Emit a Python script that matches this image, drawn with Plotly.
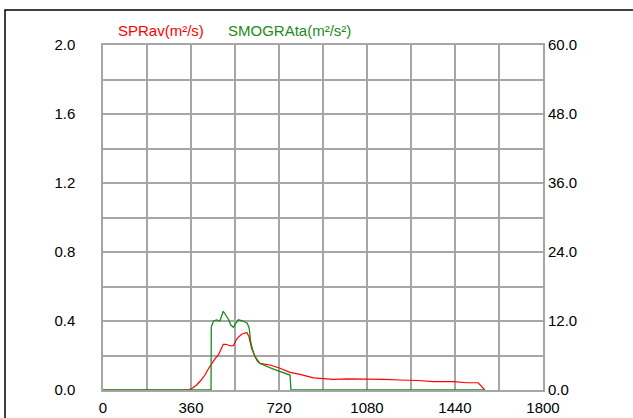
import plotly.graph_objects as go

# Data
spr_t = [0, 349, 365, 383, 400, 417, 432, 445, 458, 472, 482, 492, 503, 513, 523, 533, 541, 549,
         567, 588, 597, 603, 608, 622, 632, 642, 660, 683, 724, 765, 806, 833, 861, 888, 942,
         1000, 1079, 1150, 1215, 1290, 1352, 1400, 1434, 1488, 1535, 1562]
spr_v = [0, 0, 0.01, 0.029, 0.055, 0.087, 0.125, 0.155, 0.18, 0.203, 0.235, 0.265, 0.265, 0.26,
         0.255, 0.257, 0.28, 0.30, 0.323, 0.334, 0.31, 0.275, 0.242, 0.193, 0.17, 0.155, 0.15,
         0.145, 0.126, 0.102, 0.091, 0.081, 0.07, 0.067, 0.062, 0.064, 0.064, 0.062, 0.058,
         0.055, 0.048, 0.05, 0.048, 0.042, 0.042, 0.0]
smo_t = [0, 442, 443, 452, 465, 478, 492, 500, 513, 523, 533, 543, 554, 574, 590, 598, 604,
         612, 622, 632, 642, 700, 765, 769, 1562]
smo_v = [0, 0, 11.0, 12.0, 12.2, 12.0, 13.7, 13.2, 12.3, 11.3, 10.9, 11.6, 12.2, 12.0, 11.6,
         10.8, 8.4, 7.0, 5.8, 5.0, 4.6, 3.6, 2.6, 0, 0]

x_ticks = [0, 360, 720, 1080, 1440, 1800]
y_ticks = [0.0, 0.4, 0.8, 1.2, 1.6, 2.0]
y2_ticks = [0.0, 12.0, 24.0, 36.0, 48.0, 60.0]

red = "#ff0000"
green = "#1a8c1a"
grid = "#a6a6a6"
font = "Liberation Sans, Arial, sans-serif"
fs = 15

fig = go.Figure()
fig.add_trace(go.Scatter(x=spr_t, y=spr_v, mode="lines", line=dict(color=red, width=1.2),
                         name="SPRav(m²/s)", yaxis="y"))
fig.add_trace(go.Scatter(x=smo_t, y=smo_v, mode="lines", line=dict(color=green, width=1.3),
                         name="SMOGRAta(m²/s²)", yaxis="y2"))

fig.update_layout(
    width=633, height=418,
    margin=dict(l=103, r=90, t=45, b=28),
    paper_bgcolor="white", plot_bgcolor="white",
    showlegend=False,
    font=dict(family=font, size=fs, color="black"),
    xaxis=dict(range=[0, 1800], tickvals=x_ticks, ticktext=[str(v) for v in x_ticks],
               showgrid=True, gridcolor=grid, gridwidth=1.5, automargin=False,
               minor=dict(dtick=180, tick0=0, showgrid=True, gridcolor=grid, gridwidth=1.5),
               showline=True, linecolor=grid, linewidth=1.5, mirror=True,
               zeroline=False, ticks="", ticklabelstandoff=3,
               tickfont=dict(size=fs)),
    yaxis=dict(range=[0, 2], tickvals=y_ticks, ticktext=[f"{v:.1f}" for v in y_ticks],
               showgrid=True, gridcolor=grid, gridwidth=1.5, automargin=False,
               minor=dict(dtick=0.2, tick0=0, showgrid=True, gridcolor=grid, gridwidth=1.5),
               showline=True, linecolor=grid, linewidth=1.5, mirror=True,
               zeroline=False, ticks="", ticklabelstandoff=23,
               tickfont=dict(size=fs)),
    yaxis2=dict(range=[0, 60], tickvals=y2_ticks, ticktext=[f"{v:.1f}" for v in y2_ticks],
                overlaying="y", side="right", showgrid=False, zeroline=False, automargin=False,
                ticks="", ticklabelstandoff=4, tickfont=dict(size=fs)),
)

fig.add_annotation(text="SPRav(m²/s)", xref="paper", yref="paper", x=(161 - 103) / 440,
                   y=(390 - 30) / 345, showarrow=False, font=dict(color=red, size=fs, family=font),
                   xanchor="center", yanchor="middle")
fig.add_annotation(text="SMOGRAta(m²/s²)", xref="paper", yref="paper", x=(289 - 103) / 440,
                   y=(390 - 30) / 345, showarrow=False, font=dict(color=green, size=fs, family=font),
                   xanchor="center", yanchor="middle")

# outer frame
fig.add_shape(type="rect", xref="paper", yref="paper",
              x0=(5 - 103) / 440, x1=(640 - 103) / 440,
              y0=(390 - 425) / 345, y1=(390 - 10) / 345,
              line=dict(color="black", width=1.5), layer="below")

fig.write_html("out.html", config={"displayModeBar": False},
               post_script="document.body.style.margin='0';")
